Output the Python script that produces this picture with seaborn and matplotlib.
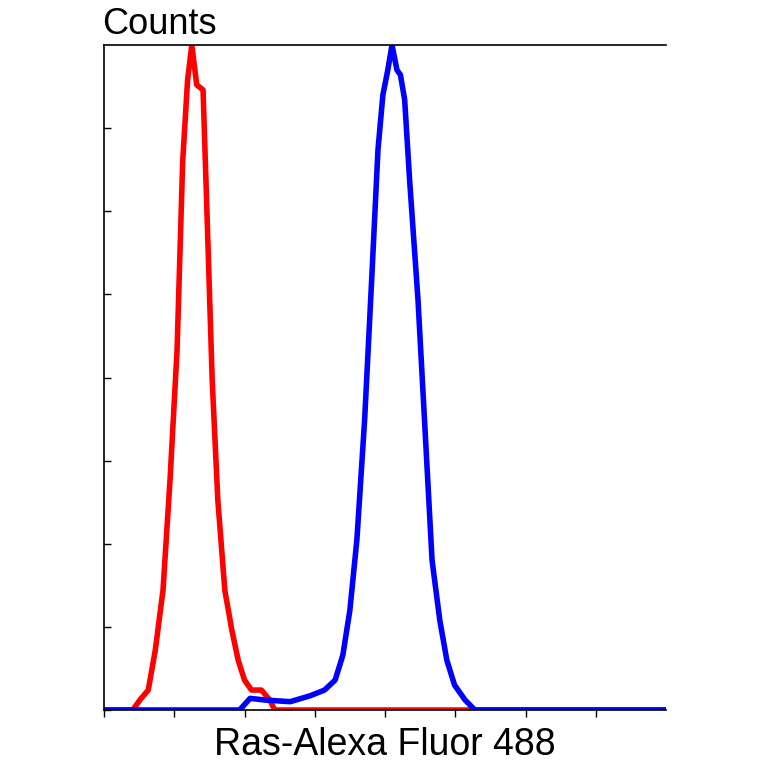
import matplotlib
matplotlib.use("Agg")
import matplotlib.pyplot as plt
import seaborn as sns
import pandas as pd

# isotype control (red)
red_x = [0.0, 0.41, 0.51, 0.63, 0.73, 0.84, 0.94, 1.04, 1.12, 1.19, 1.25, 1.32, 1.41, 1.46,
         1.54, 1.62, 1.72, 1.82, 1.91, 2.0, 2.1, 2.24, 2.36, 2.43, 8.0]
red_y = [0.0, 0.0, 0.12, 0.24, 0.72, 1.44, 2.77, 4.33, 6.6, 7.58, 8.0, 7.52, 7.46, 6.14,
         3.97, 2.53, 1.44, 0.96, 0.6, 0.36, 0.24, 0.24, 0.12, 0.0, 0.0]
# Ras antibody (blue)
blue_x = [0.0, 1.93, 2.08, 2.29, 2.65, 2.93, 3.14, 3.29, 3.4, 3.5, 3.6, 3.71, 3.81, 3.9, 3.97,
          4.04, 4.1, 4.17, 4.22, 4.28, 4.35, 4.47, 4.57, 4.67, 4.78, 4.88, 4.99, 5.14, 5.28, 8.0]
blue_y = [0.0, 0.0, 0.14, 0.12, 0.1, 0.17, 0.24, 0.36, 0.66, 1.2, 2.05, 3.49, 5.17, 6.74, 7.4,
          7.7, 8.0, 7.7, 7.64, 7.34, 6.38, 4.93, 3.37, 1.8, 1.08, 0.6, 0.3, 0.12, 0.0, 0.0]

sns.set_style("ticks")
plt.rcParams['font.family'] = ['Liberation Sans', 'DejaVu Sans']
plt.rcParams['text.color'] = 'black'
plt.rcParams['axes.labelcolor'] = 'black'

fig = plt.figure(figsize=(7.64, 7.64), dpi=100)
ax = fig.add_axes([104/764, 54/764, 562/764, 665/764])

sns.lineplot(data=pd.DataFrame({"x": red_x, "y": red_y}), x="x", y="y",
             color="#ff0000", lw=4, ax=ax, sort=False)
sns.lineplot(data=pd.DataFrame({"x": blue_x, "y": blue_y}), x="x", y="y",
             color="#0000ff", lw=4, ax=ax, sort=False)

ax.set_xlim(0, 8)
ax.set_ylim(0, 8)
ax.set_xticks(range(0, 8))
ax.set_yticks(range(0, 8))
ax.set_xticklabels([])
ax.set_yticklabels([])
ax.tick_params(axis='y', direction='in', length=5, width=1, colors='black')
ax.tick_params(axis='x', direction='out', length=5, width=1, colors='black')
ax.spines['right'].set_visible(False)
for s in ['left', 'top', 'bottom']:
    ax.spines[s].set_color('black')
    ax.spines[s].set_linewidth(1.2)

ax.set_xlabel("Ras-Alexa Fluor 488", fontsize=27, labelpad=4)
ax.set_ylabel("")
fig.text(102/764, 1 - 42/764, "Counts", fontsize=26, ha='left', va='bottom')

fig.savefig("out.png", dpi=100)
